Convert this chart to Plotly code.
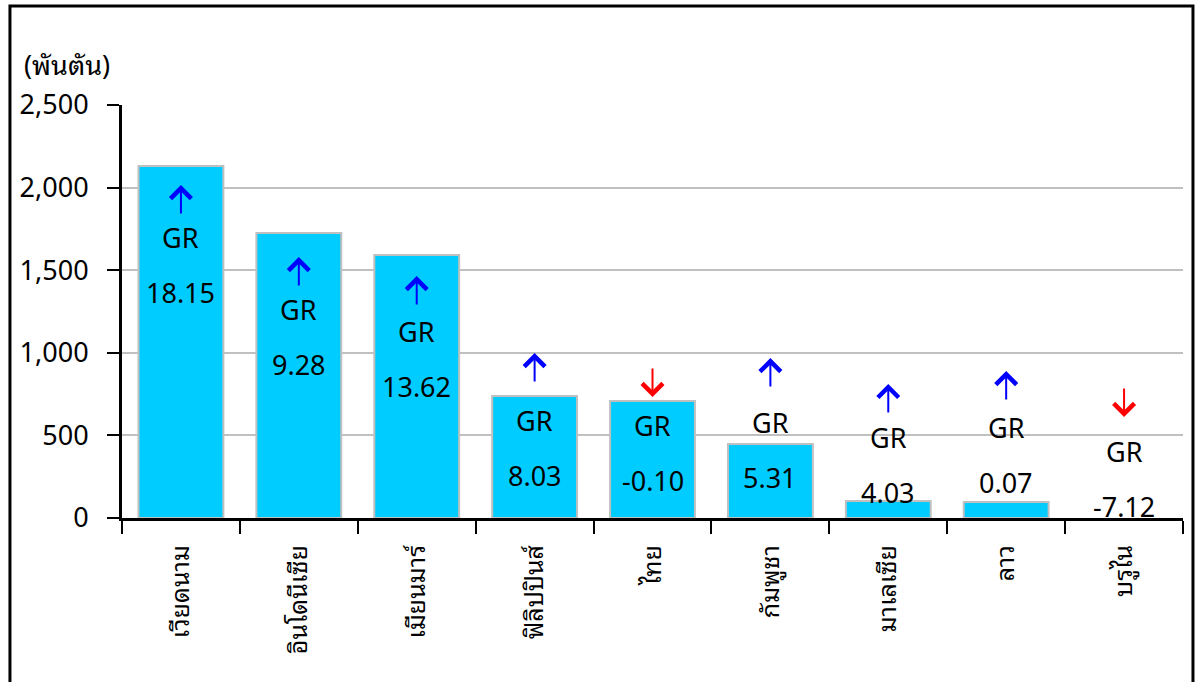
import plotly.graph_objects as go

# ---- data ----
countries = ["เวียดนาม", "อินโดนีเซีย", "เมียนมาร์", "ฟิลิปปินส์", "ไทย",
             "กัมพูชา", "มาเลเซีย", "ลาว", "บรูไน"]
volumes = [2131, 1725, 1592, 738, 708, 448, 103, 97, 0]   # thousand tonnes
growth = ["18.15", "9.28", "13.62", "8.03", "-0.10", "5.31", "4.03", "0.07", "-7.12"]
direction = ["up", "up", "up", "up", "down", "up", "up", "up", "down"]
y_ticks = [0, 500, 1000, 1500, 2000, 2500]
y_tick_text = ["0", "500", "1,000", "1,500", "2,000", "2,500"]

# label placement (data units) - layout only
value_label_y = [1368, 932, 799, 260, 230, 248, 157, 212, 67]
arrow_base_y = [1834, 1398, 1283, 817, 732, 787, 630, 708, 611]

FONT = "Noto Sans, Noto Sans Thai Looped, Noto Sans Thai, sans-serif"
THAI = "Noto Sans Thai Looped, Noto Sans Thai, Noto Sans, sans-serif"

fig = go.Figure()
fig.add_trace(go.Bar(
    x=countries, y=volumes,
    marker=dict(color="#00CCFF",
                line=dict(color="#C0C0C0", width=[2 if v > 5 else 0 for v in volumes])),
    width=0.72, hoverinfo="x+y",
))

ann = []
for c, g, d, vy, ay in zip(countries, growth, direction, value_label_y, arrow_base_y):
    ann.append(dict(x=c, y=vy, text=g, showarrow=False,
                    font=dict(size=27, color="black", family=FONT),
                    xanchor="center", yanchor="middle"))
    ann.append(dict(x=c, y=vy, text="GR", showarrow=False, yshift=55,
                    font=dict(size=27, color="black", family=FONT),
                    xanchor="center", yanchor="middle"))
    if d == "up":
        ann.append(dict(x=c, y=ay, text="", showarrow=True, ax=0, ay=30, yshift=30,
                        arrowhead=4, arrowsize=2.0, arrowwidth=2,
                        arrowcolor="#0000FF", standoff=0))
    else:
        ann.append(dict(x=c, y=ay, text="", showarrow=True, ax=0, ay=-30,
                        arrowhead=4, arrowsize=2.0, arrowwidth=2,
                        arrowcolor="#FF0000", standoff=0))

ann.append(dict(xref="paper", yref="paper", x=-0.0943, y=1.104,
                text="(พันตัน)", showarrow=False, xanchor="left", yanchor="middle",
                font=dict(size=27, color="black", family=THAI)))

fig.update_layout(
    width=1197, height=682,
    margin=dict(l=122, r=14, t=105, b=164),
    paper_bgcolor="white", plot_bgcolor="white",
    showlegend=False, bargap=0.28,
    annotations=ann,
    font=dict(family=FONT, size=26, color="black"),
    shapes=[dict(type="rect", xref="paper", yref="paper",
                 x0=-0.1056, x1=1.0094, y0=-0.45, y1=1.2397,
                 line=dict(color="black", width=3), layer="above")],
)
fig.update_xaxes(
    type="category", tickson="boundaries", ticks="outside", ticklen=13,
    tickwidth=2, tickcolor="black", showline=True, linecolor="black", linewidth=3,
    tickangle=-90, showgrid=False, ticklabelstandoff=14,
    tickfont=dict(size=25, family=THAI, color="black"),
)
fig.update_yaxes(
    range=[0, 2500], tickvals=y_ticks, ticktext=y_tick_text,
    ticks="outside", ticklen=12, tickwidth=2, tickcolor="black",
    showline=True, linecolor="black", linewidth=3,
    showgrid=True, gridcolor="#C0C0C0", gridwidth=2, zeroline=False,
    ticklabelstandoff=13,
    tickfont=dict(size=27, family=FONT, color="black"),
)

fig.write_html(
    "out.html",
    config={"displayModeBar": False},
    post_script="document.body.style.margin='0';document.body.style.overflow='hidden';",
)
